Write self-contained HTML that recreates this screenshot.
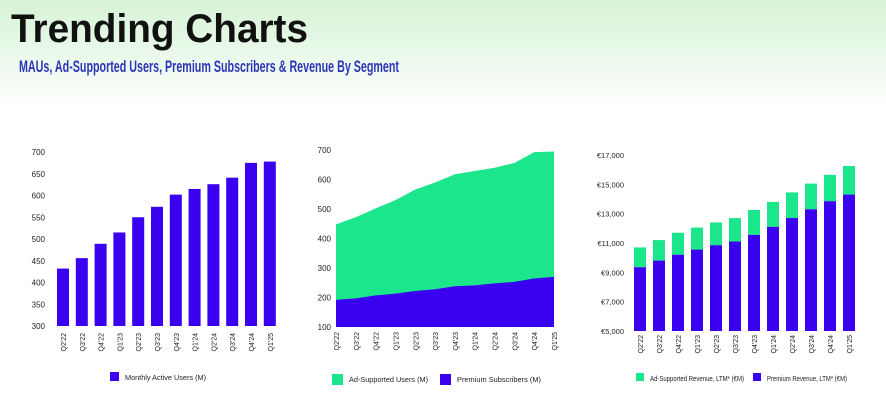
<!DOCTYPE html>
<html><head><meta charset="utf-8"><style>
html,body{margin:0;padding:0;width:886px;height:404px;overflow:hidden;background:#fff}
svg{display:block;font-family:"Liberation Sans",Arial,sans-serif}
</style></head><body>
<svg id="s" width="886" height="404" viewBox="0 0 886 404" xmlns="http://www.w3.org/2000/svg">
<defs><linearGradient id="bg" x1="0" y1="0" x2="0" y2="1"><stop offset="0" stop-color="#d6f3d6"/><stop offset="1" stop-color="#ffffff"/></linearGradient></defs>
<rect x="0" y="0" width="886" height="110" fill="url(#bg)"/>
<text x="11" y="42" font-size="40" font-weight="bold" fill="#111" textLength="297" lengthAdjust="spacingAndGlyphs">Trending Charts</text>
<text x="19" y="72" font-size="17" font-weight="bold" fill="#2b35b8" textLength="380" lengthAdjust="spacingAndGlyphs">MAUs, Ad-Supported Users, Premium Subscribers &amp; Revenue By Segment</text>
<g id="c1"></g>
<g id="c2"></g>
<g id="c3"></g>
</svg>
<script>
const quarters=["Q2'22","Q3'22","Q4'22","Q1'23","Q2'23","Q3'23","Q4'23","Q1'24","Q2'24","Q3'24","Q4'24","Q1'25"];
const mau=[432,456,489,515,550,574,602,615,626,641,675,678];
const mauTicks=[300,350,400,450,500,550,600,650,700];
const totalUsers=[448,472,502,530,566,590,618,629,640,656,693,695];
const premiumSubs=[192,197,207,213,222,228,238,241,248,253,265,270];
const userTicks=[100,200,300,400,500,600,700];
const totalRevenue=[10700,11200,11700,12050,12400,12700,13250,13800,14450,15050,15650,16250];
const premiumRevenue=[9350,9800,10200,10550,10850,11100,11550,12100,12700,13300,13850,14300];
const revTicks=[5000,7000,9000,11000,13000,15000,17000];
const revTickLabels=["€5,000","€7,000","€9,000","€11,000","€13,000","€15,000","€17,000"];

const NS="http://www.w3.org/2000/svg";
const PURPLE="#3a00f0", GREEN="#1ce68c";
function mk(parent,tag,attrs,text){const e=document.createElementNS(NS,tag);for(const k in attrs)e.setAttribute(k,attrs[k]);if(text!==undefined)e.textContent=text;parent.appendChild(e);return e;}
function lin(d0,d1,r0,r1){return v=>r0+(v-d0)*(r1-r0)/(d1-d0);}

function yTicks(g,ticks,labels,y,xr,fs){ticks.forEach((t,i)=>{const e=mk(g,'text',{x:xr,y:y(t)+3,'font-size':fs||8,'text-anchor':'end',fill:'#222'},labels?labels[i]:String(t));

});}
function xTicks(g,xs,yTop){quarters.forEach((q,i)=>{const e=mk(g,'text',{transform:`translate(${xs(i)+3},${yTop}) rotate(-90)`,'font-size':7,'text-anchor':'end',fill:'#222'},q);

});}
function legend(g,x,y,color,label,w,len){const r=mk(g,'rect',{x:x,y:y-8,width:w,height:w,fill:color});


const t=mk(g,'text',{x:x+w+6,y:y,'font-size':7.5,fill:'#222',textLength:len,lengthAdjust:'spacingAndGlyphs'},label);

}

// Chart 1
(function(){const g=document.getElementById('c1');
const y=lin(300,700,326,152);const x=i=>63+i*18.8;
yTicks(g,mauTicks,null,y,45);
mau.forEach((v,i)=>{const r=mk(g,'rect',{x:x(i)-6,y:y(v),width:12,height:y(300)-y(v),fill:PURPLE});

});
xTicks(g,x,333);
legend(g,110,380,PURPLE,'Monthly Active Users (M)',9,81);})();

// Chart 2
(function(){const g=document.getElementById('c2');
const y=lin(100,700,327,150);const x=i=>336+i*(554-336)/11;
yTicks(g,userTicks,null,y,331);
let top=totalUsers.map((v,i)=>`${x(i)},${y(v)}`).join(' ');
let base=`${x(11)},${y(100)} ${x(0)},${y(100)}`;
const a=mk(g,'polygon',{points:top+' '+base,fill:GREEN});


let ptop=premiumSubs.map((v,i)=>`${x(i)},${y(v)}`).join(' ');
const p=mk(g,'polygon',{points:ptop+' '+base,fill:PURPLE});


xTicks(g,x,332);
legend(g,332,382,GREEN,'Ad-Supported Users (M)',11,79);
legend(g,440,382,PURPLE,'Premium Subscribers (M)',11,84);})();

// Chart 3
(function(){const g=document.getElementById('c3');
const y=lin(5000,17000,331,155);const x=i=>640+i*19;
yTicks(g,revTicks,revTickLabels,y,624,7.5);
totalRevenue.forEach((v,i)=>{const r=mk(g,'rect',{x:x(i)-6,y:y(v),width:12,height:y(premiumRevenue[i])-y(v),fill:GREEN});


const b=mk(g,'rect',{x:x(i)-6,y:y(premiumRevenue[i]),width:12,height:y(5000)-y(premiumRevenue[i]),fill:PURPLE});

});
xTicks(g,x,335);
legend(g,636,381,GREEN,'Ad-Supported Revenue, LTM* (€M)',8,94);
legend(g,753,381,PURPLE,'Premium Revenue, LTM* (€M)',8,80);})();
</script>
</body></html>
